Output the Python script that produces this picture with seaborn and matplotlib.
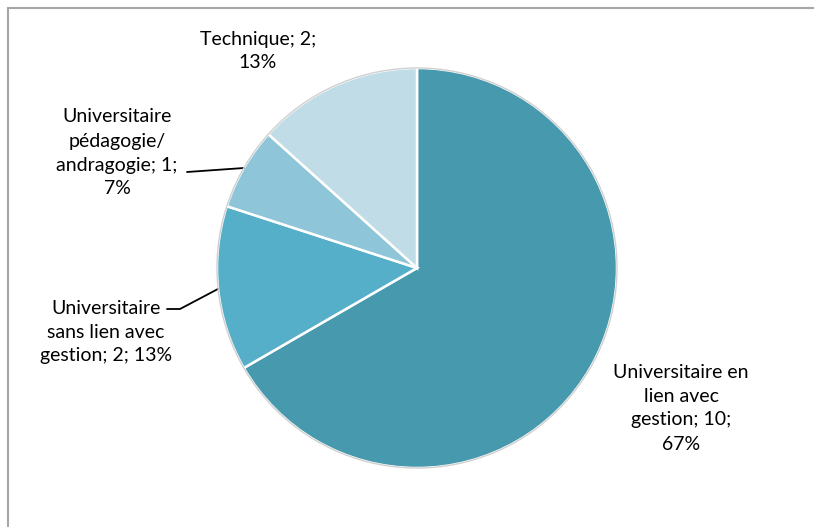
import numpy as np
import matplotlib
matplotlib.use("Agg")
import matplotlib.pyplot as plt
from matplotlib.patches import Rectangle, Circle
import seaborn as sns

categories = ["Universitaire en\nlien avec\ngestion", "Universitaire\nsans lien avec\ngestion",
              "Universitaire\npédagogie/\nandragogie", "Technique"]
values = [10, 2, 1, 2]
label_texts = ["Universitaire en\nlien avec\ngestion; 10;\n67%",
               "Universitaire\nsans lien avec\ngestion; 2; 13%",
               "Universitaire\npédagogie/\nandragogie; 1;\n7%",
               "Technique; 2;\n13%"]
colors = ["#4799AE", "#55AFC8", "#8FC5D8", "#C0DCE6"]

sns.set_theme(style="white")
plt.rcParams['font.family'] = ['Lato', 'DejaVu Sans']

W, H = 814, 527
fig = plt.figure(figsize=(W / 100, H / 100), dpi=100)
fig.patch.set_facecolor("white")

# border frame
fig.patches.append(Rectangle((8 / W, -0.1), 1.2, 1 - 8 / H + 0.1, transform=fig.transFigure,
                             fill=False, edgecolor="#A6A6A6", linewidth=1.5, zorder=0))

cx, cy, R = 417, 268, 200
half = 250
ax = fig.add_axes([(cx - half) / W, (H - cy - half) / H, 2 * half / W, 2 * half / H])
ax.set_xlim(-1.25, 1.25)
ax.set_ylim(-1.25, 1.25)
ax.set_aspect("equal")
ax.axis("off")

wedges, _ = ax.pie(values, colors=colors, startangle=90, counterclock=False, radius=1,
                   wedgeprops=dict(edgecolor="white", linewidth=1.8))
ax.add_patch(Circle((0, 0), 1.0, fill=False, edgecolor="#D0D0D0", linewidth=1.0, zorder=5))

def px(x, y):
    return ((x - cx) / R, (cy - y) / R)

text_pos = [px(681, 408), px(106, 332), px(117, 153), px(258, 51)]
for w, t, p in zip(wedges, label_texts, text_pos):
    ax.text(p[0], p[1], t, ha="center", va="center", fontsize=14, linespacing=1.5,
            color="black", clip_on=False)

# leader lines for the two small slices
def anchor(w):
    mid = np.deg2rad((w.theta1 + w.theta2) / 2)
    return np.cos(mid), np.sin(mid)

a = anchor(wedges[2])
e = px(187, 172)
ax.plot([a[0], e[0]], [a[1], e[1]], color="black", lw=1.3, clip_on=False)

a = anchor(wedges[1])
e1 = px(180, 309)
e2 = px(167, 309)
ax.plot([a[0], e1[0], e2[0]], [a[1], e1[1], e2[1]], color="black", lw=1.3, clip_on=False)

fig.savefig("out.png", dpi=100)
